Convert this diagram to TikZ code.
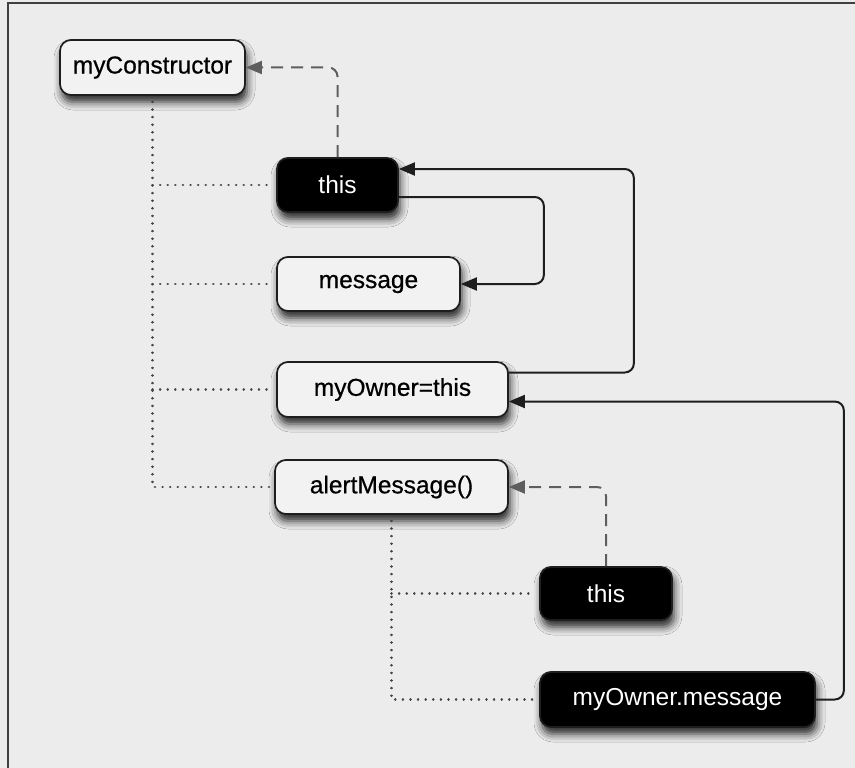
\documentclass[tikz,border=0pt]{standalone}
\usepackage{fontspec}
\setmainfont{Liberation Sans}
\usetikzlibrary{arrows.meta,shadows.blur}
\definecolor{pagebg}{HTML}{ECECEC}
\definecolor{boxfill}{HTML}{F2F2F2}
\definecolor{linecol}{HTML}{1E1E1E}
\definecolor{dashcol}{HTML}{5E5E5E}
\definecolor{dotcol}{HTML}{444444}
\tikzset{
  x=1pt, y=1pt,
  basebox/.style={rounded corners=11pt, line width=1.7pt, draw=linecol, align=center,
    inner sep=0pt,
    blur shadow={shadow xshift=2pt, shadow yshift=-7pt, shadow blur radius=8pt, shadow opacity=85}},
  lightbox/.style={basebox, fill=boxfill, text=black,
    font=\fontsize{24.5}{26}\selectfont\addfontfeature{FakeBold=0.6}},
  darkbox/.style={basebox, fill=black, text=white,
    font=\fontsize{24.5}{26}\selectfont},
  solidarrow/.style={draw=linecol, line width=2pt, rounded corners=9pt, -{Triangle[length=16pt,width=13pt]}},
  dasharrow/.style={draw=dashcol, line width=2pt, dash pattern=on 12pt off 8pt, rounded corners=9pt, -{Triangle[length=16pt,width=13pt]}},
  dotline/.style={draw=dotcol, line width=2.6pt, line cap=round, dash pattern=on 0.1pt off 7.5pt},
}
\begin{document}
\begin{tikzpicture}
\fill[pagebg] (0,0) rectangle (855,-768);
\useasboundingbox (0,0) rectangle (855,-768);
\draw[line width=1.5pt, draw=black!75] (855,-3) -- (8,-3) -- (8,-768);

\node[lightbox, minimum width=185pt, minimum height=55pt] (mc)  at (152.5,-67.5) {myConstructor};
\node[darkbox,  minimum width=121pt, minimum height=54pt] (t1)  at (337.5,-185) {this};
\node[lightbox, minimum width=183pt, minimum height=54pt] (msg) at (368.5,-284) {message};
\node[lightbox, minimum width=231pt, minimum height=55pt] (mo)  at (392.5,-389.5) {myOwner=this};
\node[lightbox, minimum width=233pt, minimum height=54pt] (am)  at (391.5,-487) {alertMessage()};
\node[darkbox,  minimum width=132pt, minimum height=53pt] (t2)  at (606,-593.5) {this};
\node[darkbox,  minimum width=275pt, minimum height=55pt] (mom) at (677.5,-699.5) {myOwner.message};

% dotted scope lines
\draw[dotline] ([yshift=-6pt]mc.south) |- ([xshift=-4pt]am.west);
\draw[dotline] (mc.south |- t1.west) -- ([xshift=-4pt]t1.west);
\draw[dotline] (mc.south |- msg.west) -- ([xshift=-4pt]msg.west);
\draw[dotline] (mc.south |- mo.west) -- ([xshift=-4pt]mo.west);
\draw[dotline] ([yshift=-6pt]am.south) |- ([xshift=-4pt]mom.west);
\draw[dotline] (am.south |- t2.west) -- ([xshift=-4pt]t2.west);

% dashed references
\draw[dasharrow] (t1.north) |- (mc.east);
\draw[dasharrow] (t2.north) |- (am.east);

% solid references
\draw[solidarrow] ([yshift=-12pt]t1.east) -- ++(145pt,0) |- (msg.east);
\draw[solidarrow] ([yshift=17pt]mo.east) -- ++(125pt,0) |- ([yshift=16pt]t1.east);
\draw[solidarrow] (mom.east) -- ++(28pt,0) |- ([yshift=-12pt]mo.east);
\end{tikzpicture}
\end{document}
